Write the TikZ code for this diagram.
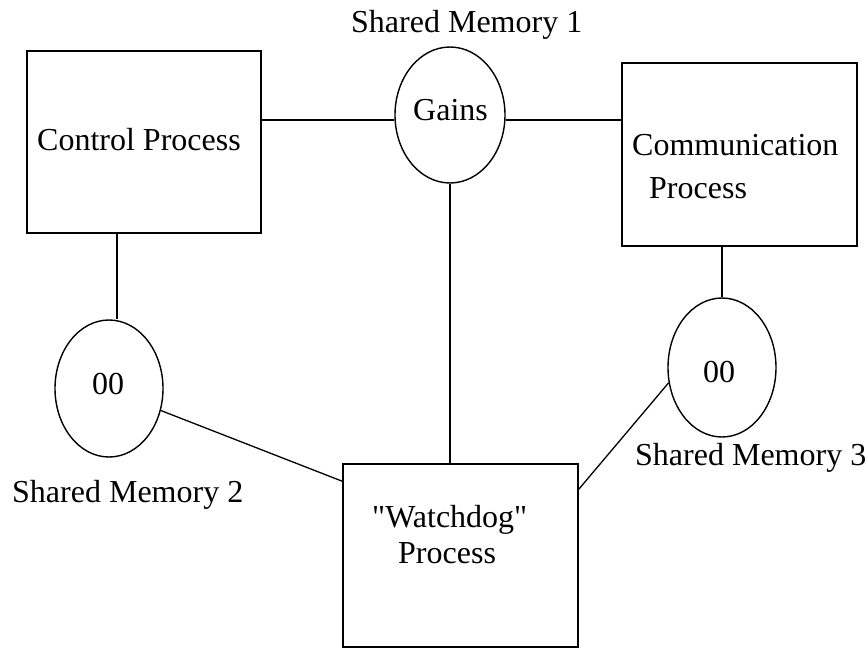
\documentclass[tikz,border=0pt]{standalone}
\usepackage{fontspec}
\setmainfont{Liberation Serif}[Ligatures=TeXOff]
\usetikzlibrary{shapes.geometric}

\tikzset{
  procbox/.style={draw, line width=1.6pt, rectangle, inner sep=0pt},
  memcell/.style={draw, line width=1.4pt, ellipse, inner sep=0pt},
  lbl/.style={anchor=base west, inner sep=0pt, font=\fontsize{32}{38}\selectfont},
  wire/.style={line width=1.3pt}
}

\begin{document}
\begin{tikzpicture}[x=1pt, y=-1pt]
\useasboundingbox (0,0) rectangle (868,649);

% processes
\node[procbox, minimum width=234pt, minimum height=182pt] (ctrl)  at (144,142) {};
\node[procbox, minimum width=235pt, minimum height=183pt] (comm)  at (739.5,154.5) {};
\node[procbox, minimum width=235pt, minimum height=183pt] (watch) at (460.5,555.5) {};

% shared memories
\node[memcell, minimum width=110pt, minimum height=136pt] (gains) at (450,115) {};
\node[memcell, minimum width=108pt, minimum height=137pt] (mem2)  at (109,388.5) {};
\node[memcell, minimum width=108pt, minimum height=139pt] (mem3)  at (722,367.5) {};

% texts
\node[lbl] (tctrl)  at (37,150)  {Control Process};
\node[lbl] (tgains) at (413,120) {Gains};
\node[lbl] (tcomm1) at (632,155) {Communication};
\node[lbl] (tcomm2) at (649,198) {Process};
\node[lbl] (twat1)  at (372,527) {"Watchdog"};
\node[lbl] (twat2)  at (398,563) {Process};
\node[lbl] (tm2v)   at (92,394)  {00};
\node[lbl] (tm3v)   at (703,382) {00};
\node[lbl] (sm1)    at (351,32)  {Shared Memory 1};
\node[lbl] (sm2)    at (12,502)  {Shared Memory 2};
\node[lbl] (sm3)    at (635,465) {Shared Memory 3};

% connectors
\draw[wire] (ctrl.east |- 0,120) -- (gains.west |- 0,120);
\draw[wire] (gains.east |- 0,120) -- (comm.west |- 0,120);
\draw[wire] (gains.south) -- (gains.south |- watch.north);
\draw[wire] (ctrl.south -| 117,0) -- (mem2.north -| 117,0);
\draw[wire] (mem3.north) -- (mem3.north |- comm.south);
\draw[wire] (mem2.-23) -- ([yshift=-18pt]watch.north west);
\draw[wire] (mem3.196) -- ([yshift=-26pt]watch.north east);
\end{tikzpicture}
\end{document}
